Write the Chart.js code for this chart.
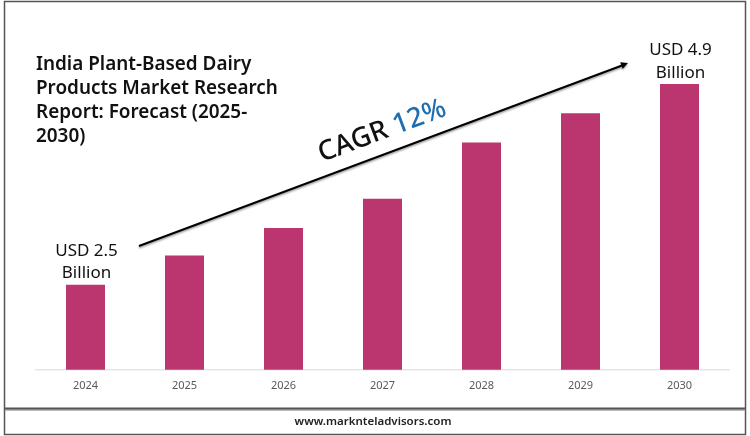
<!DOCTYPE html>
<html>
<head>
<meta charset="utf-8">
<style>
    html, body { margin: 0; padding: 0; background: #fff; }
    canvas { display: block; }
</style>
<script src="https://cdn.jsdelivr.net/npm/chart.js@4"></script>
</head>
<body>
<canvas id="market_chart" width="750" height="436"></canvas>
<script>
// values, the axis does not start at zero
const years = ["2024", "2025", "2026", "2027", "2028", "2029", "2030"];
const market_size = [2.5, 2.85, 3.18, 3.53, 4.2, 4.55, 4.9];
const bar_callouts = { 0: ["USD 2.5", "Billion"], 6: ["USD 4.9", "Billion"] };
const title_lines = ["India Plant-Based Dairy", "Products Market Research", "Report: Forecast (2025-", "2030)"];
const cagr_text = "CAGR";
const cagr_value = "12%";
const footer_text = "www.marknteladvisors.com";

const font_name = '"Noto Sans", sans-serif';

// frame, title, arrow and the other things around the bars
const decorations = {
    id: 'decorations',
    afterDraw(chart) {
        const ctx = chart.ctx;
        ctx.save();

        // outer frame
        ctx.strokeStyle = '#555';
        ctx.lineWidth = 1.5;
        ctx.strokeRect(4.5, 1.5, 741, 433);

        // line above the footer
        ctx.fillStyle = '#bbb';
        ctx.fillRect(5, 409, 740, 2);
        ctx.fillStyle = '#555';
        ctx.fillRect(5, 407.5, 740, 2);

        // title
        ctx.fillStyle = '#111';
        ctx.textAlign = 'left';
        ctx.textBaseline = 'alphabetic';
        ctx.font = '600 18.9px ' + font_name;
        title_lines.forEach(function (line, i) {
            ctx.fillText(line, 36, 70 + i * 24);
        });

        // callouts over the first and last bar
        const bars = chart.getDatasetMeta(0).data;
        ctx.font = '17px ' + font_name;
        ctx.textAlign = 'center';
        ctx.fillStyle = '#111';
        Object.keys(bar_callouts).forEach(function (index) {
            const bar = bars[index];
            bar_callouts[index].forEach(function (line, i) {
                ctx.fillText(line, bar.x + 1, bar.y - 29 + i * 22.5);
            });
        });

        // growth arrow with a soft shadow
        ctx.save();
        ctx.shadowColor = 'rgba(0,0,0,0.4)';
        ctx.shadowBlur = 2;
        ctx.shadowOffsetY = 1.5;
        ctx.strokeStyle = '#000';
        ctx.fillStyle = '#000';
        ctx.lineWidth = 2;
        ctx.beginPath();
        ctx.moveTo(139, 246);
        ctx.lineTo(622, 65.5);
        ctx.stroke();
        ctx.translate(628, 63);
        ctx.rotate(-0.3567);
        ctx.beginPath();
        ctx.moveTo(0, 0);
        ctx.lineTo(-7, -3.5);
        ctx.lineTo(-7, 3.5);
        ctx.closePath();
        ctx.fill();
        ctx.restore();

        // rotated CAGR text
        ctx.save();
        ctx.translate(322, 162);
        ctx.rotate(-0.3567);
        ctx.textAlign = 'left';
        ctx.font = '500 27.5px ' + font_name;
        ctx.fillStyle = '#111';
        ctx.fillText(cagr_text, 0, 0);
        const cagr_width = ctx.measureText(cagr_text + ' ').width;
        ctx.fillStyle = '#1f6fb0';
        ctx.fillText(cagr_value, cagr_width, 0);
        ctx.restore();

        // footer
        ctx.font = '600 11.5px ' + font_name;
        ctx.fillStyle = '#222';
        ctx.textAlign = 'center';
        ctx.fillText(footer_text, 373, 425);

        ctx.restore();
    }
};

new Chart(document.getElementById('market_chart'), {
    type: 'bar',
    data: {
        labels: years,
        datasets: [{
            data: market_size,
            backgroundColor: '#bb366f',
            barPercentage: 0.394,
            categoryPercentage: 1,
        }]
    },
    plugins: [decorations],
    options: {
        responsive: false,
        animation: false,
        devicePixelRatio: 1,
        layout: {
            padding: { left: 36, right: 21, top: 84, bottom: 43 },
        },
        scales: {
            x: {
                grid: { display: false },
                border: { color: '#e6e6e6', width: 1.5 },
                ticks: {
                    color: '#595959',
                    padding: 1,
                    font: { size: 11, family: font_name },
                },
            },
            y: {
                display: false,
                min: 1.485,
                max: 4.9,
            },
        },
        plugins: {
            legend: { display: false },
            tooltip: { enabled: false },
        },
    }
});
</script>
</body>
</html>
